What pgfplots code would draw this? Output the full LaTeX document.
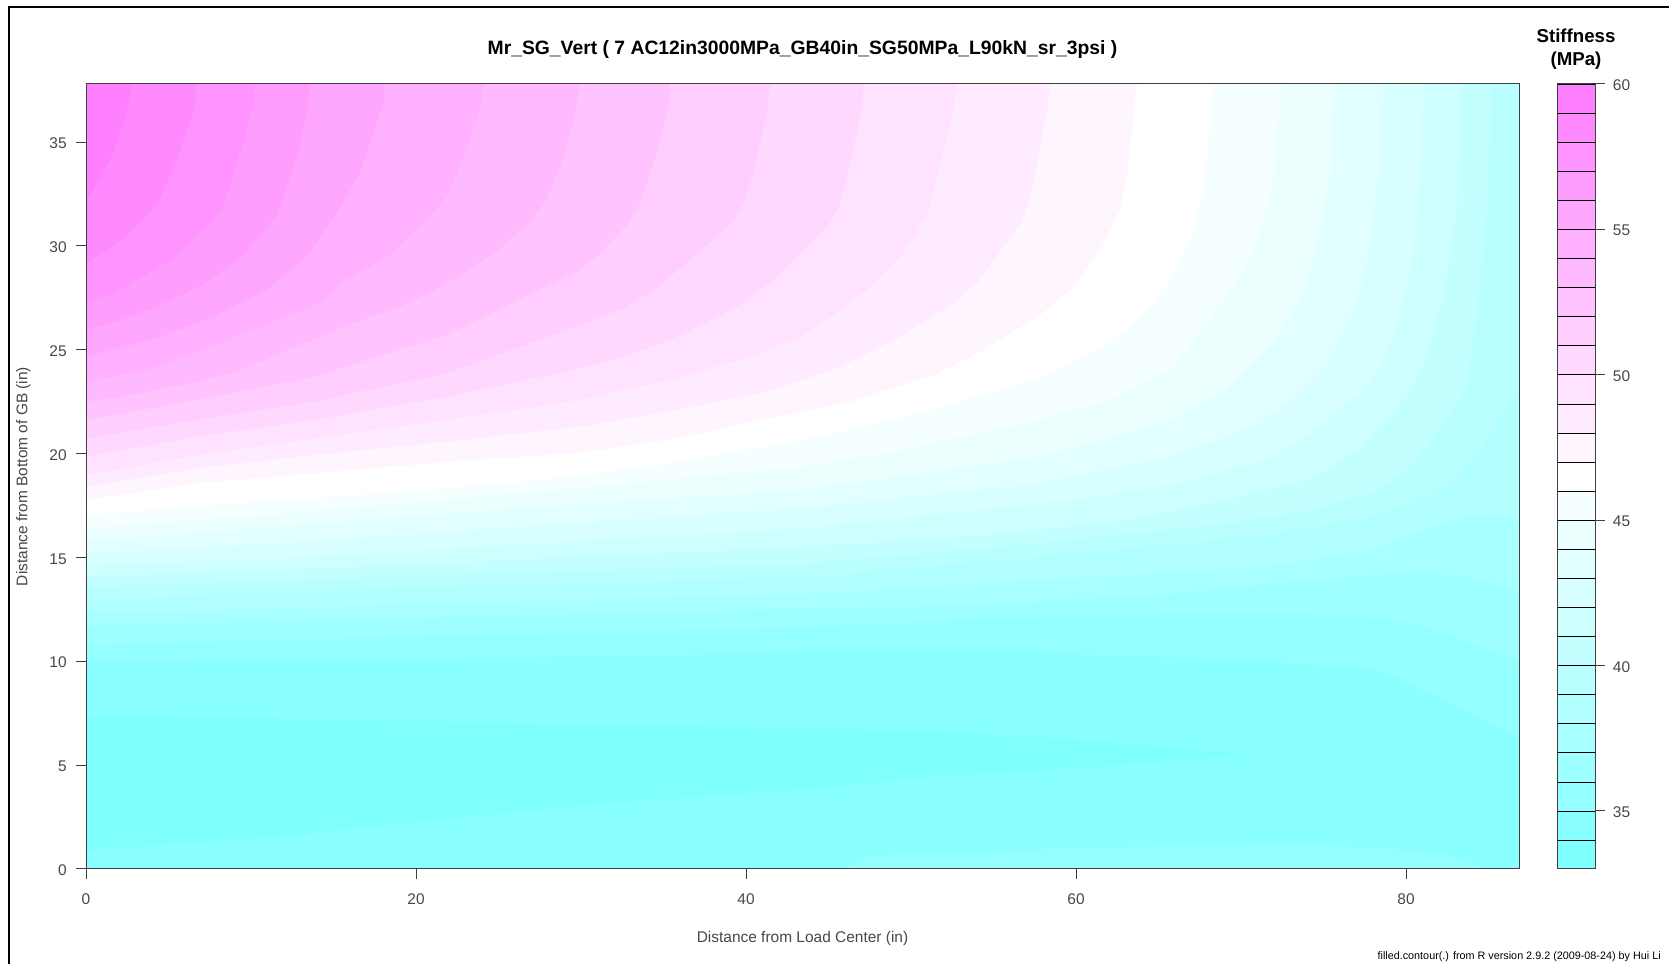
\documentclass[border=0pt]{standalone}
\usepackage{fontspec}
\setmainfont{Liberation Sans}
\usepackage{pgfplots}
\pgfplotsset{compat=1.18}

% band colours, 33-34 (b0) up to 59-60 (b26)
\definecolor{b0}{RGB}{128,255,255}
\definecolor{b1}{RGB}{137,255,255}
\definecolor{b2}{RGB}{147,255,255}
\definecolor{b3}{RGB}{157,255,255}
\definecolor{b4}{RGB}{167,255,255}
\definecolor{b5}{RGB}{177,255,255}
\definecolor{b6}{RGB}{186,255,255}
\definecolor{b7}{RGB}{196,255,255}
\definecolor{b8}{RGB}{206,255,255}
\definecolor{b9}{RGB}{216,255,255}
\definecolor{b10}{RGB}{226,255,255}
\definecolor{b11}{RGB}{235,255,255}
\definecolor{b12}{RGB}{245,255,255}
\definecolor{b13}{RGB}{255,255,255}
\definecolor{b14}{RGB}{255,245,255}
\definecolor{b15}{RGB}{255,235,255}
\definecolor{b16}{RGB}{255,226,255}
\definecolor{b17}{RGB}{255,216,255}
\definecolor{b18}{RGB}{255,206,255}
\definecolor{b19}{RGB}{255,196,255}
\definecolor{b20}{RGB}{255,186,255}
\definecolor{b21}{RGB}{255,177,255}
\definecolor{b22}{RGB}{255,167,255}
\definecolor{b23}{RGB}{255,157,255}
\definecolor{b24}{RGB}{255,147,255}
\definecolor{b25}{RGB}{255,137,255}
\definecolor{b26}{RGB}{255,128,255}
\colorlet{txt}{black!72}

\pgfplotsset{
  rplot/.style={
    scale only axis,
    anchor=south west,
    height=588.75pt,
    ymin=0,
    axis on top,
    axis line style={black!75,line width=0.75pt},
    tick style={black!75,line width=0.75pt},
    tick align=outside,
    major tick length=7.5pt,
    every axis title shift=0pt,
    tick label style={font=\fontsize{11.6}{13}\selectfont,text=txt,
      /pgf/number format/assume math mode=true},
  },
}

\begin{document}
\begin{tikzpicture}
\path[use as bounding box] (0,0) rectangle (1251.75pt,722.25pt);
\draw[black,line width=1.6pt] (6.75pt,-5pt) -- (6.75pt,717pt) -- (1260pt,717pt);

\begin{axis}[
  rplot,
  at={(64.5pt,70.5pt)},
  width=1074.75pt,
  xmin=0, xmax=86.85, ymax=37.8,
  xtick={0,20,40,60,80},
  ytick={0,5,10,15,20,25,30,35},
  xtick pos=bottom,
  ytick pos=left,
  xticklabel style={yshift=-7.7pt},
  yticklabel style={xshift=-3.5pt,yshift=-1pt},
  title={\bfseries Mr\_SG\_Vert ( 7 AC12in3000MPa\_GB40in\_SG50MPa\_L90kN\_sr\_3psi )},
  title style={font=\fontsize{14.5}{17}\selectfont,at={(axis description cs:0.5,1.044)},anchor=center,inner sep=0pt},
  xlabel={Distance from Load Center (in)},
  ylabel={Distance from Bottom of GB (in)},
  xlabel style={font=\fontsize{11.6}{13}\selectfont,text=txt,at={(axis description cs:0.5,-0.0885)},anchor=center,inner sep=0pt},
  ylabel style={font=\fontsize{11.6}{13}\selectfont,text=txt,at={(axis description cs:-0.0437,0.5)},anchor=center,inner sep=0pt},
]
% base band 34-35
\addplot[fill=b1,draw=none] coordinates {(0,0)(86.85,0)(86.85,37.8)(0,37.8)} --cycle;
% tongue below 34
\addplot[fill=b0,draw=none] coordinates {(0,7.37)(16.33,7.2)(30.24,6.95)(43.27,6.79)(51.73,6.63)(60.2,6.23)(70.63,5.5)(60.2,4.86)(51.73,4.46)(43.27,3.81)(30.24,3.08)(16.33,1.96)(11.76,1.55)(0,0.91)} --cycle;
% above 35, and the lens at the bottom right
\addplot[fill=b2,draw=none] coordinates {(46,0)(47.5,0.66)(63,1.07)(74.3,1.18)(82.2,0.82)(84.7,0)} --cycle;
\addplot[fill=b2,draw=none] coordinates {(0,9.97)(16.3,10.02)(43.3,10.42)(57.4,10.42)(71.5,10.02)(78.5,9.53)(82.8,7.92)(86.85,6.3)(86.85,37.8)(0,37.8)} --cycle;
% above 36
\addplot[fill=b3,draw=none] coordinates {(0,10.78)(11.76,11.03)(43.27,11.63)(54.55,12.04)(65.8,12.27)(74.3,12.27)(78.4,12.08)(80.4,11.84)(83.45,11.03)(86.85,9.98)(86.85,37.8)(0,37.8)} --cycle;
% above 37
\addplot[fill=b4,draw=none] coordinates {(0,11.7)(11.76,11.91)(43.27,12.52)(54,12.68)(65.8,13.25)(74.3,13.9)(78.4,14.15)(81,14.31)(84.1,13.99)(86.85,13.35)(86.85,37.8)(0,37.8)} --cycle;
% above 38
\addplot[fill=b5,draw=none] coordinates {(0,12.31)(11.76,12.55)(43.27,13.24)(57.4,13.89)(71.48,14.54)(78.25,15.42)(80.85,16.32)(83.9,16.96)(85.4,17.07)(86.85,16.8)(86.85,37.8)(0,37.8)} --cycle;
% above 39
\addplot[fill=b6,draw=none] coordinates {(0,12.95)(11.76,13.35)(43.27,14.05)(57.4,15.02)(71.48,16.07)(78.4,17.04)(80.85,17.86)(83,18.7)(84.08,19.69)(85.5,21.46)(86.85,23.06)(86.85,37.8)(0,37.8)} --cycle;
% above 40
\addplot[fill=b7,draw=none] coordinates {(0,13.59)(11.76,13.91)(43.27,14.7)(57.4,15.67)(68.66,16.6)(74.3,17.3)(78.22,18.2)(80.04,19.21)(81.86,20.98)(83.68,23.22)(84.28,26.76)(84.89,31.57)(85.19,37.8)(0,37.8)} --cycle;
% above 41
\addplot[fill=b8,draw=none] coordinates {(0,14.08)(11.76,14.4)(43.27,15.5)(54.55,16.07)(63.02,16.79)(69.94,17.93)(74.59,18.89)(77,20.17)(80.04,22.74)(81.25,24.67)(82.26,27.56)(83.07,31.57)(83.37,37.8)(0,37.8)} --cycle;
% above 42
\addplot[fill=b9,draw=none] coordinates {(0,14.64)(11.76,14.95)(43.27,16.39)(52,17.1)(59.84,17.77)(66.3,18.57)(71.76,19.77)(74.18,20.98)(77.2,22.9)(78.22,23.87)(79.23,25.63)(80.24,28.68)(80.85,32.37)(81.05,37.8)(0,37.8)} --cycle;
% above 43
\addplot[fill=b10,draw=none] coordinates {(0,15.2)(11.76,15.67)(25,16.4)(43.27,17.36)(50,17.9)(57.82,18.57)(65.5,19.77)(70.75,21.3)(73.37,22.74)(75.39,24.51)(77.01,27.24)(77.72,29.48)(78.32,33.17)(78.63,37.8)(0,37.8)} --cycle;
% above 44
\addplot[fill=b11,draw=none] coordinates {(0,15.76)(11.76,16.49)(25,17.3)(43.27,18.25)(57.82,19.85)(65.29,21.46)(69.13,23.06)(71.96,25.31)(73.78,27.72)(74.79,30.6)(75.39,33.5)(75.7,37.8)(0,37.8)} --cycle;
% above 45
\addplot[fill=b12,draw=none] coordinates {(0,16.4)(11.76,17.12)(25,18)(43.27,19.35)(48.93,20.1)(57.82,21.62)(62.47,22.74)(65.9,24.19)(67.92,26.27)(69.94,28.52)(71.15,30.6)(71.96,33.17)(72.46,37.8)(0,37.8)} --cycle;
% above 46
\addplot[fill=b13,draw=none] coordinates {(0,17.04)(11.76,17.77)(20,18.2)(28.73,18.85)(34.8,19.45)(42.87,20.58)(48.93,21.62)(55,22.98)(57.82,23.63)(62.06,25.31)(64.48,27.08)(65.9,28.52)(67.11,30.77)(67.72,32.69)(68.12,35.9)(68.32,37.8)(0,37.8)} --cycle;
% above 47
\addplot[fill=b14,draw=none] coordinates {(0,17.77)(6.7,18.57)(13.8,19.05)(21.86,19.61)(29.94,20.05)(35.8,20.74)(40.85,21.62)(45.9,22.42)(51.35,23.79)(54.38,24.99)(57.82,26.67)(59.74,27.96)(61.46,29.8)(62.67,31.73)(63.17,33.82)(63.58,37.03)(63.68,37.8)(0,37.8)} --cycle;
% above 48
\addplot[fill=b15,draw=none] coordinates {(0,18.41)(6.7,19.29)(13.8,19.93)(21.86,20.58)(29.94,21.3)(35.8,22.1)(41.66,23.06)(45.5,24.11)(49.33,25.63)(52.77,27.32)(54.18,28.36)(56.6,31.09)(57.21,32.21)(58.32,36.87)(58.42,37.8)(0,37.8)} --cycle;
% above 49
\addplot[fill=b16,draw=none] coordinates {(0,18.97)(6.7,19.93)(13.8,20.74)(21.86,21.62)(29.94,22.58)(32.57,23.06)(36.2,23.7)(40.24,24.67)(43.27,25.63)(45.5,26.76)(47.31,27.88)(49.54,29.64)(51.05,31.57)(51.96,34.46)(52.57,36.55)(52.73,37.8)(0,37.8)} --cycle;
% above 50
\addplot[fill=b17,draw=none] coordinates {(0,19.85)(6.7,20.82)(13.8,21.62)(21.86,22.74)(29.94,24.11)(32.37,24.59)(35.6,25.55)(39.44,27.08)(41.66,28.36)(44.99,31)(45.6,31.89)(46.1,33.17)(47,36.55)(47.15,37.8)(0,37.8)} --cycle;
% above 51
\addplot[fill=b18,draw=none] coordinates {(0,20.74)(6.7,21.62)(13.8,22.5)(21.86,23.87)(29.94,26.19)(32.57,27)(34.59,27.96)(36.81,29.48)(39.13,31.09)(39.84,32.05)(40.45,33.5)(41.25,36.38)(41.46,37.8)(0,37.8)} --cycle;
% above 52
\addplot[fill=b19,draw=none] coordinates {(0,21.62)(6.7,22.58)(13.8,23.7)(21.86,25.71)(29.94,28.84)(30.95,29.48)(32.87,31.09)(33.58,32.05)(34.59,34.46)(35.3,36.7)(35.4,37.8)(0,37.8)} --cycle;
% above 53
\addplot[fill=b20,draw=none] coordinates {(0,22.5)(3.27,22.9)(6.7,23.46)(9.33,24.03)(11.76,24.83)(15.6,26.11)(19.03,27.08)(21.35,27.96)(24.68,29.57)(26.9,31.17)(27.92,32.21)(28.73,33.82)(29.64,36.22)(29.94,37.8)(0,37.8)} --cycle;
% above 54
\addplot[fill=b21,draw=none] coordinates {(0,23.46)(3.68,24.03)(7.11,24.99)(10.34,26.03)(14.18,27.24)(15.6,28.28)(18.42,29.56)(20.64,31.25)(21.86,32.37)(23.07,34.62)(23.98,36.87)(24.12,37.8)(0,37.8)} --cycle;
% above 55
\addplot[fill=b22,draw=none] coordinates {(0,24.67)(4.28,25.55)(7.72,26.6)(10.95,27.88)(13.57,29.64)(15,31.33)(16.6,33.5)(18.02,36.87)(18.12,37.8)(0,37.8)} --cycle;
% above 56
\addplot[fill=b23,draw=none] coordinates {(0,25.97)(2.06,26.43)(4.28,27.08)(6.9,28.04)(9.33,29.4)(11.55,31.4)(12.8,34.3)(13.4,36.38)(13.58,37.8)(0,37.8)} --cycle;
% above 57
\addplot[fill=b24,draw=none] coordinates {(0,27.23)(1.66,27.71)(3.27,28.43)(5.5,29.56)(7.72,31.25)(8.32,31.89)(9.13,33.97)(10.18,36.87)(10.24,37.8)(0,37.8)} --cycle;
% above 58
\addplot[fill=b25,draw=none] coordinates {(0,29.16)(1.66,29.97)(3.27,31.09)(4.38,32.13)(5.5,34.14)(6.1,35.58)(6.6,36.7)(6.71,37.8)(0,37.8)} --cycle;
% above 59
\addplot[fill=b26,draw=none] coordinates {(0,32.05)(0.65,33)(1.45,34.1)(2.06,35.4)(2.57,36.7)(2.77,37.8)(0,37.8)} --cycle;
\end{axis}

% colour key
\begin{axis}[
  rplot,
  at={(1167.75pt,70.5pt)},
  width=28.5pt,
  xmin=0, xmax=1, ymin=33, ymax=60,
  xtick=\empty,
  ytick={35,40,45,50,55,60},
  ytick pos=right,
  yticklabel pos=right,
  yticklabel style={xshift=2.4pt,yshift=-1pt},
  title={Stiffness\\(MPa)},
  title style={font=\fontsize{14}{16.8}\selectfont\bfseries,align=center,at={(axis description cs:0.5,1.0445)},anchor=center,inner sep=0pt},
]
\addplot[fill=b0,draw=black] coordinates {(0,33)(1,33)(1,34)(0,34)} --cycle;
\addplot[fill=b1,draw=black] coordinates {(0,34)(1,34)(1,35)(0,35)} --cycle;
\addplot[fill=b2,draw=black] coordinates {(0,35)(1,35)(1,36)(0,36)} --cycle;
\addplot[fill=b3,draw=black] coordinates {(0,36)(1,36)(1,37)(0,37)} --cycle;
\addplot[fill=b4,draw=black] coordinates {(0,37)(1,37)(1,38)(0,38)} --cycle;
\addplot[fill=b5,draw=black] coordinates {(0,38)(1,38)(1,39)(0,39)} --cycle;
\addplot[fill=b6,draw=black] coordinates {(0,39)(1,39)(1,40)(0,40)} --cycle;
\addplot[fill=b7,draw=black] coordinates {(0,40)(1,40)(1,41)(0,41)} --cycle;
\addplot[fill=b8,draw=black] coordinates {(0,41)(1,41)(1,42)(0,42)} --cycle;
\addplot[fill=b9,draw=black] coordinates {(0,42)(1,42)(1,43)(0,43)} --cycle;
\addplot[fill=b10,draw=black] coordinates {(0,43)(1,43)(1,44)(0,44)} --cycle;
\addplot[fill=b11,draw=black] coordinates {(0,44)(1,44)(1,45)(0,45)} --cycle;
\addplot[fill=b12,draw=black] coordinates {(0,45)(1,45)(1,46)(0,46)} --cycle;
\addplot[fill=b13,draw=black] coordinates {(0,46)(1,46)(1,47)(0,47)} --cycle;
\addplot[fill=b14,draw=black] coordinates {(0,47)(1,47)(1,48)(0,48)} --cycle;
\addplot[fill=b15,draw=black] coordinates {(0,48)(1,48)(1,49)(0,49)} --cycle;
\addplot[fill=b16,draw=black] coordinates {(0,49)(1,49)(1,50)(0,50)} --cycle;
\addplot[fill=b17,draw=black] coordinates {(0,50)(1,50)(1,51)(0,51)} --cycle;
\addplot[fill=b18,draw=black] coordinates {(0,51)(1,51)(1,52)(0,52)} --cycle;
\addplot[fill=b19,draw=black] coordinates {(0,52)(1,52)(1,53)(0,53)} --cycle;
\addplot[fill=b20,draw=black] coordinates {(0,53)(1,53)(1,54)(0,54)} --cycle;
\addplot[fill=b21,draw=black] coordinates {(0,54)(1,54)(1,55)(0,55)} --cycle;
\addplot[fill=b22,draw=black] coordinates {(0,55)(1,55)(1,56)(0,56)} --cycle;
\addplot[fill=b23,draw=black] coordinates {(0,56)(1,56)(1,57)(0,57)} --cycle;
\addplot[fill=b24,draw=black] coordinates {(0,57)(1,57)(1,58)(0,58)} --cycle;
\addplot[fill=b25,draw=black] coordinates {(0,58)(1,58)(1,59)(0,59)} --cycle;
\addplot[fill=b26,draw=black] coordinates {(0,59)(1,59)(1,60)(0,60)} --cycle;
\end{axis}

\node[anchor=east,inner sep=0pt,font=\fontsize{8.1}{9}\selectfont,text=black] at (1245.75pt,4.5pt) {filled.contour(.) from R version 2.9.2 (2009-08-24) by Hui Li};
\end{tikzpicture}
\end{document}
